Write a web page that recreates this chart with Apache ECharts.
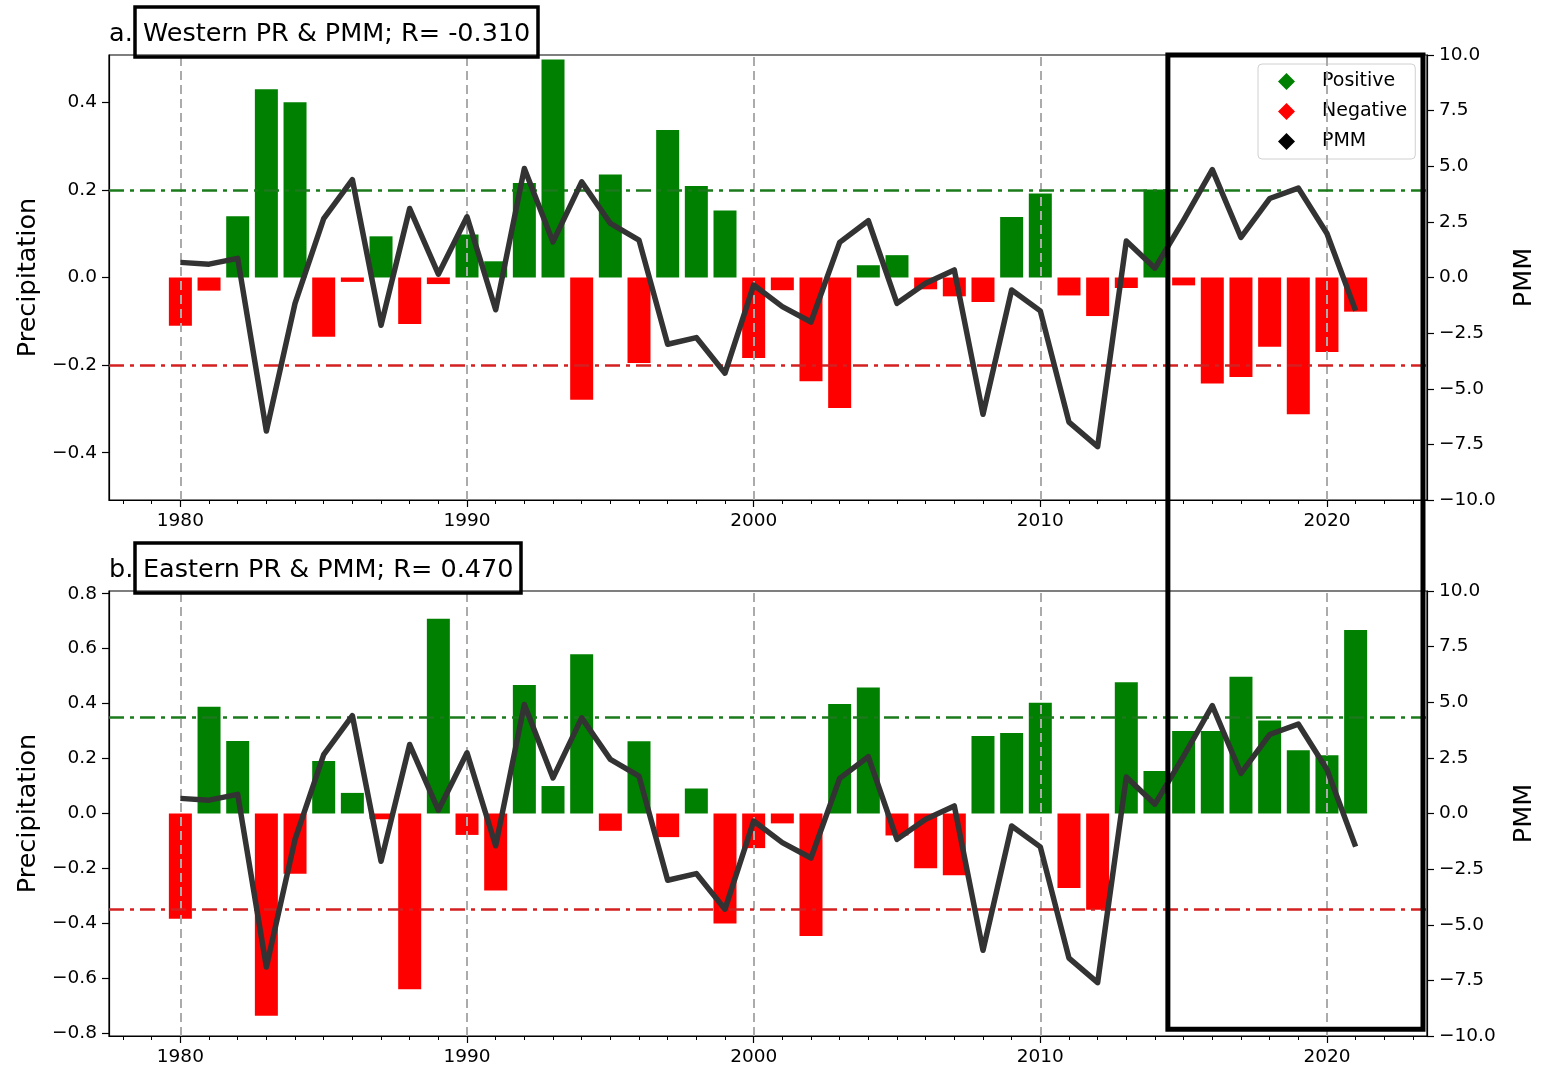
<!DOCTYPE html>
<html>
<head>
<meta charset="utf-8">
<script src="https://cdn.jsdelivr.net/npm/echarts@6.0.0/dist/echarts.min.js"></script>
<style>
  html, body { margin: 0; padding: 0; background: #fff; }
  #chart { width: 1552px; height: 1073px; }
</style>
</head>
<body>
<div id="chart"></div>
<script>
// yearly data, 1980 - 2021
var years = [1980, 1981, 1982, 1983, 1984, 1985, 1986, 1987, 1988, 1989,
  1990, 1991, 1992, 1993, 1994, 1995, 1996, 1997, 1998, 1999,
  2000, 2001, 2002, 2003, 2004, 2005, 2006, 2007, 2008, 2009,
  2010, 2011, 2012, 2013, 2014, 2015, 2016, 2017, 2018, 2019, 2020, 2021];

var westernPR = [-0.11, -0.03, 0.14, 0.43, 0.40, -0.135, -0.01, 0.094, -0.106, -0.015,
  0.098, 0.037, 0.216, 0.498, -0.279, 0.235, -0.195, 0.337, 0.209, 0.153,
  -0.184, -0.029, -0.237, -0.298, 0.028, 0.051, -0.027, -0.043, -0.056, 0.138,
  0.192, -0.041, -0.088, -0.024, 0.201, -0.018, -0.242, -0.227, -0.158, -0.312, -0.17, -0.078];

var easternPR = [-0.383, 0.389, 0.264, -0.736, -0.219, 0.191, 0.075, -0.021, -0.64, 0.709,
  -0.078, -0.28, 0.468, 0.1, 0.58, -0.063, 0.263, -0.086, 0.091, -0.4,
  -0.126, -0.036, -0.446, 0.399, 0.459, -0.08, -0.199, -0.225, 0.282, 0.293,
  0.403, -0.271, -0.35, 0.478, 0.155, 0.3, 0.3, 0.498, 0.339, 0.23, 0.212, 0.668];

var pmm = [0.68, 0.6, 0.86, -6.9, -1.16, 2.65, 4.4, -2.15, 3.1, 0.15,
  2.73, -1.45, 4.9, 1.6, 4.3, 2.43, 1.68, -3.0, -2.7, -4.3,
  -0.34, -1.31, -2.0, 1.58, 2.55, -1.16, -0.26, 0.34, -6.15, -0.56,
  -1.5, -6.5, -7.6, 1.64, 0.42, 2.58, 4.85, 1.8, 3.55, 4.02, 1.98, -1.49];

var yearTicks = [1980, 1990, 2000, 2010, 2020];
var westernTicks = [-0.4, -0.2, 0.0, 0.2, 0.4];
var easternTicks = [-0.8, -0.6, -0.4, -0.2, 0.0, 0.2, 0.4, 0.6, 0.8];
var westernThreshold = 0.2;
var easternThreshold = 0.35;
var highlightYears = [2014.45, 2023.35];
var highlightPmm = [10, -9.7];

var FONT = "DejaVu Sans";
var GREEN = "#008000";
var RED = "#ff0000";

var chart = echarts.init(document.getElementById("chart"));

function fmt1(v) {
  return v.toFixed(1).replace("-", "\u2212");
}

function pick(vals, positive) {
  var out = [];
  for (var i = 0; i < years.length; i++) {
    if ((vals[i] >= 0) === positive) out.push([years[i], vals[i]]);
  }
  return out;
}

function pairs(vals) {
  return years.map(function (y, i) { return [y, vals[i]]; });
}

// decade grid lines + dash-dot thresholds, drawn above the bars
function refLines(thr) {
  var lines = yearTicks.map(function (d) {
    return { xAxis: d, lineStyle: { color: "#ababab", type: [9, 5], width: 2 } };
  });
  lines.push({ yAxis: thr, lineStyle: { color: "#1b7a1b", type: [15, 6, 4, 6], width: 2.6 } });
  lines.push({ yAxis: -thr, lineStyle: { color: "#d42020", type: [15, 6, 4, 6], width: 2.6 } });
  return lines;
}

function xAxisFor(g) {
  return {
    gridIndex: g,
    type: "value",
    min: 1977.51,
    max: 2023.49,
    axisLine: { onZero: false, lineStyle: { color: "#000", width: 1.2 } },
    axisTick: { customValues: yearTicks, length: 7, lineStyle: { color: "#000", width: 1.2 } },
    minorTick: { show: true, splitNumber: 10, length: 4, lineStyle: { color: "#000", width: 1 } },
    axisLabel: {
      customValues: yearTicks,
      margin: 12,
      fontFamily: FONT,
      fontSize: 18.5,
      color: "#000",
      formatter: function (v) { return String(Math.round(v)); }
    },
    splitLine: { show: false }
  };
}

function leftAxisFor(g, lim, ticks, split) {
  return {
    gridIndex: g,
    type: "value",
    position: "left",
    min: -lim,
    max: lim,
    splitNumber: split,
    name: "Precipitation",
    nameLocation: "middle",
    nameRotate: 90,
    nameGap: 66,
    nameTextStyle: { fontFamily: FONT, fontSize: 25.5, color: "#000" },
    axisLine: { show: true, lineStyle: { color: "#000", width: 1.2 } },
    axisTick: { show: true, customValues: ticks, length: 7, lineStyle: { color: "#000", width: 1.2 } },
    axisLabel: {
      customValues: ticks,
      margin: 12,
      fontFamily: FONT,
      fontSize: 18.5,
      color: "#000",
      formatter: fmt1
    },
    splitLine: { show: false }
  };
}

function rightAxisFor(g) {
  return {
    gridIndex: g,
    type: "value",
    position: "right",
    min: -10,
    max: 10,
    interval: 2.5,
    name: "PMM",
    nameLocation: "middle",
    nameRotate: 90,
    nameGap: 84,
    nameTextStyle: { fontFamily: FONT, fontSize: 25.5, color: "#000" },
    axisLine: { show: true, lineStyle: { color: "#000", width: 1.2 } },
    axisTick: { show: true, length: 7, lineStyle: { color: "#000", width: 1.2 } },
    axisLabel: {
      margin: 12,
      fontFamily: FONT,
      fontSize: 18.5,
      color: "#000",
      formatter: fmt1
    },
    splitLine: { show: false }
  };
}

function panelSeries(g, vals, thr) {
  var yL = g * 2, yR = g * 2 + 1;
  return [
    {
      name: "Positive", type: "bar", xAxisIndex: g, yAxisIndex: yL,
      data: pick(vals, true), barWidth: 23, barGap: "-100%",
      itemStyle: { color: GREEN },
      markLine: { silent: true, symbol: "none", label: { show: false }, data: refLines(thr) }
    },
    {
      name: "Negative", type: "bar", xAxisIndex: g, yAxisIndex: yL,
      data: pick(vals, false), barWidth: 23, barGap: "-100%",
      itemStyle: { color: RED }
    },
    {
      name: "PMM", type: "line", xAxisIndex: g, yAxisIndex: yR, z: 8,
      data: pairs(pmm), showSymbol: false, symbol: "none",
      itemStyle: { color: "#000" },
      lineStyle: { color: "#333333", width: 5.5, join: "round" }
    }
  ];
}

function boxTitle(label, text, top) {
  return [
    {
      text: label, left: 109, top: top,
      padding: [12, 0, 8, 0],
      textStyle: { fontFamily: FONT, fontSize: 25.5, fontWeight: "normal", color: "#000", lineHeight: 30 }
    },
    {
      text: text, left: 135, top: top,
      padding: [12, 8, 8, 8],
      borderColor: "#000", borderWidth: 3.5,
      textStyle: { fontFamily: FONT, fontSize: 25.5, fontWeight: "normal", color: "#000", lineHeight: 30 }
    }
  ];
}

var option = {
  animation: false,
  backgroundColor: "#fff",
  textStyle: { fontFamily: FONT },
  title: boxTitle("a.", "Western PR & PMM; R= -0.310", 7)
    .concat(boxTitle("b.", "Eastern PR & PMM; R= 0.470", 543)),
  legend: {
    data: ["Positive", "Negative", "PMM"],
    orient: "vertical",
    left: 1258,
    top: 64,
    icon: "diamond",
    itemWidth: 17,
    itemHeight: 17,
    itemGap: 11,
    padding: [8, 8, 8, 20],
    backgroundColor: "rgba(255,255,255,0.85)",
    borderColor: "#d0d0d0",
    borderWidth: 1,
    borderRadius: 4,
    textStyle: { fontFamily: FONT, fontSize: 19, color: "#000", padding: [0, 0, 0, 22] }
  },
  grid: [
    { left: 109, right: 125, top: 55, height: 445, show: true, borderColor: "#000", borderWidth: 1.2 },
    { left: 109, right: 125, top: 591, height: 445, show: true, borderColor: "#000", borderWidth: 1.2 }
  ],
  xAxis: [xAxisFor(0), xAxisFor(1)],
  yAxis: [
    leftAxisFor(0, 0.508, westernTicks, 5),
    rightAxisFor(0),
    leftAxisFor(1, 0.81, easternTicks, 8),
    rightAxisFor(1)
  ],
  series: panelSeries(0, westernPR, westernThreshold)
    .concat(panelSeries(1, easternPR, easternThreshold))
};

option && chart.setOption(option);

// highlight box spanning both panels
var hx0 = chart.convertToPixel({ xAxisIndex: 0 }, highlightYears[0]);
var hx1 = chart.convertToPixel({ xAxisIndex: 0 }, highlightYears[1]);
var hy0 = chart.convertToPixel({ yAxisIndex: 1 }, highlightPmm[0]);
var hy1 = chart.convertToPixel({ yAxisIndex: 3 }, highlightPmm[1]);
chart.setOption({
  graphic: [{
    type: "rect", z: 100, silent: true,
    shape: { x: hx0, y: hy0, width: hx1 - hx0, height: hy1 - hy0 },
    style: { fill: null, stroke: "#000", lineWidth: 5 }
  }]
});
</script>
</body>
</html>
